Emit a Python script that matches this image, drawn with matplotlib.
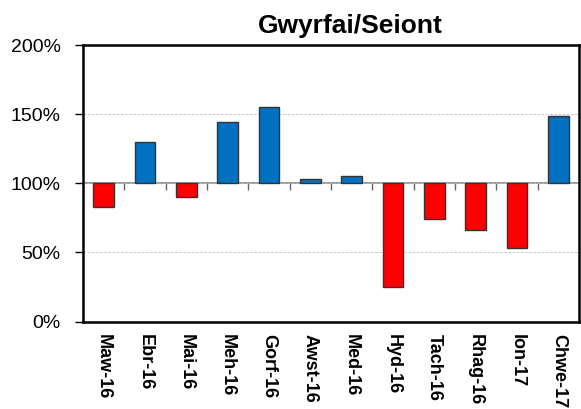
import matplotlib
matplotlib.use("Agg")
import matplotlib.pyplot as plt
from matplotlib.ticker import FuncFormatter
import numpy as np

plt.rcParams['font.family'] = ['Liberation Sans', 'DejaVu Sans']

categories = ["Maw-16", "Ebr-16", "Mai-16", "Meh-16", "Gorf-16", "Awst-16",
              "Med-16", "Hyd-16", "Tach-16", "Rhag-16", "Ion-17", "Chwe-17"]
values = [83, 130, 90, 144, 155, 103, 105, 25, 74, 66, 53, 149]
baseline = 100
title = "Gwyrfai/Seiont"

blue = "#0070C0"
red = "#FF0000"

fig = plt.figure(figsize=(5.81, 4.09), dpi=100)
ax = fig.add_axes([83/581, 1-321.5/409, (579-83)/581, (321.5-45)/409])

x = np.arange(len(categories))
heights = [v - baseline for v in values]
colors = [blue if v >= baseline else red for v in values]
ax.bar(x, heights, bottom=baseline, width=0.5, color=colors,
       edgecolor="#333333", linewidth=1.0, zorder=3)

ax.set_xlim(-0.5, len(categories) - 0.5)
ax.set_ylim(0, 200)
ax.set_yticks([0, 50, 100, 150, 200])
ax.yaxis.set_major_formatter(FuncFormatter(lambda v, p: f"{v:.0f}%"))
ax.tick_params(axis='y', labelsize=14, length=6, width=1, direction='out', pad=10)
ax.grid(axis='y', color="#BBBBBB", linestyle=(0, (3, 2)), linewidth=0.6, zorder=0)

ax.set_xticks(x)
ax.set_xticklabels(categories, rotation=-90, fontsize=13, fontweight='bold',
                   va='top', ha='center')
ax.tick_params(axis='x', length=0, pad=9)

for s in ax.spines.values():
    s.set_linewidth(1.8)
    s.set_color("black")

# baseline axis at 100% with category separator ticks
sec = ax.secondary_xaxis((baseline - 0) / 200)
sec.set_xticks(np.arange(len(categories) - 1) + 0.5)
sec.set_xticklabels([])
sec.tick_params(axis='x', direction='in', length=5, width=1, color="#666666")
for s in sec.spines.values():
    s.set_color("#888888")
    s.set_linewidth(1.2)

fig.text(350/581, 1-33/409, title, fontsize=19, fontweight='bold',
         ha='center', va='baseline')

fig.savefig("out.png", dpi=100)
